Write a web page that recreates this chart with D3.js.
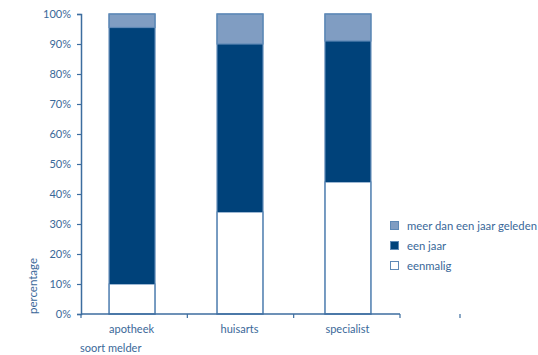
<!DOCTYPE html>
<html>
<head>
<meta charset="utf-8">
<script src="https://cdn.jsdelivr.net/npm/d3@7"></script>
<style>
  html, body { margin: 0; padding: 0; background: #fff; }
  svg text { font-family: Lato, "Open Sans", sans-serif; fill: #3a6899; }
</style>
</head>
<body>
<svg id="chart" width="538" height="355"></svg>
<script>
// Soort melder (categories) and share per duration (percent)
const categories = ["apotheek", "huisarts", "specialist"];
const eenmalig = [10, 34, 44];
const eenJaar = [85.5, 56, 47];
const meerDanEenJaar = [4.5, 10, 9];
const yTicks = [0, 10, 20, 30, 40, 50, 60, 70, 80, 90, 100];

const seriesNames = ["eenmalig", "een jaar", "meer dan een jaar geleden"];
const seriesValues = [eenmalig, eenJaar, meerDanEenJaar];
const colors = ["#ffffff", "#00427a", "#809dc2"];
const strokeCol = "#5e89b6";
const axisCol = "#3c6d9f";

const rows = categories.map((c, i) => {
  const r = { cat: c };
  seriesNames.forEach((s, k) => r[s] = seriesValues[k][i]);
  return r;
});
const stacked = d3.stack().keys(seriesNames)(rows);

const svg = d3.select("#chart");
const plotLeft = 81, plotRight = 400, plotTop = 14, plotBottom = 314;

const x = d3.scaleBand().domain(categories).range([plotLeft, plotRight]).paddingInner(0.565).paddingOuter(0.26);
const y = d3.scaleLinear().domain([0, 100]).range([plotBottom, plotTop]);

// bars
const g = svg.append("g");
stacked.forEach((layer, k) => {
  g.selectAll(null).data(layer).join("rect")
    .attr("x", d => x(d.data.cat))
    .attr("y", d => y(d[1]))
    .attr("width", x.bandwidth() - 1)
    .attr("height", d => y(d[0]) - y(d[1]))
    .attr("fill", colors[k])
    .attr("stroke", k === 1 ? "none" : strokeCol)
    .attr("stroke-width", 1.2);
});
// outline around each full bar
g.selectAll(null).data(rows).join("rect")
  .attr("x", d => x(d.cat))
  .attr("y", y(100))
  .attr("width", x.bandwidth() - 1)
  .attr("height", y(0) - y(100))
  .attr("fill", "none")
  .attr("stroke", strokeCol)
  .attr("stroke-width", 1.2);

// y axis
const yAxis = svg.append("g").attr("transform", `translate(${plotLeft},0)`)
  .call(d3.axisLeft(y).tickValues(yTicks).tickFormat(d => d + "%").tickSize(4).tickPadding(6));
yAxis.select(".domain").attr("stroke", axisCol).attr("stroke-width", 1.5);
yAxis.selectAll(".tick line").attr("stroke", axisCol).attr("stroke-width", 1.2);
yAxis.selectAll(".tick text").attr("font-size", 11).style("font-family", "Lato, sans-serif").attr("fill", "#3a6899");

// x axis with band-boundary ticks
const xg = svg.append("g");
xg.append("line").attr("x1", plotLeft).attr("x2", plotRight).attr("y1", plotBottom).attr("y2", plotBottom)
  .attr("stroke", axisCol).attr("stroke-width", 1.5);
const boundaries = d3.range(categories.length + 1).map(i => plotLeft + i * (plotRight - plotLeft) / categories.length);
xg.selectAll(null).data(boundaries).join("line")
  .attr("x1", d => d).attr("x2", d => d)
  .attr("y1", plotBottom).attr("y2", plotBottom + 4)
  .attr("stroke", axisCol).attr("stroke-width", 1.2);
xg.append("line").attr("x1", plotRight + 60).attr("x2", plotRight + 60).attr("y1", plotBottom).attr("y2", plotBottom + 4)
  .attr("stroke", axisCol).attr("stroke-width", 1.2);
xg.selectAll(null).data(categories).join("text")
  .attr("x", d => x(d) + x.bandwidth() / 2 - 1)
  .attr("y", 333)
  .attr("text-anchor", "middle")
  .attr("font-size", 11)
  .text(d => d);

// axis titles
svg.append("text").attr("x", 80).attr("y", 352).attr("font-size", 11).text("soort melder");
svg.append("text")
  .attr("transform", "translate(37,286) rotate(-90)")
  .attr("text-anchor", "middle")
  .attr("font-size", 11.5)
  .text("percentage");

// legend
const legendItems = seriesNames.map((s, k) => ({ name: s, color: colors[k] })).reverse();
const lg = svg.append("g").attr("transform", "translate(390,221)");
legendItems.forEach((d, i) => {
  const row = lg.append("g").attr("transform", `translate(0,${i * 20})`);
  row.append("rect").attr("x", 0.5).attr("y", 0.5).attr("width", 8).attr("height", 8)
    .attr("fill", d.color).attr("stroke", strokeCol).attr("stroke-width", 1);
  row.append("text").attr("x", 17).attr("y", 8.5).attr("font-size", 11.3).text(d.name);
});
</script>
</body>
</html>
